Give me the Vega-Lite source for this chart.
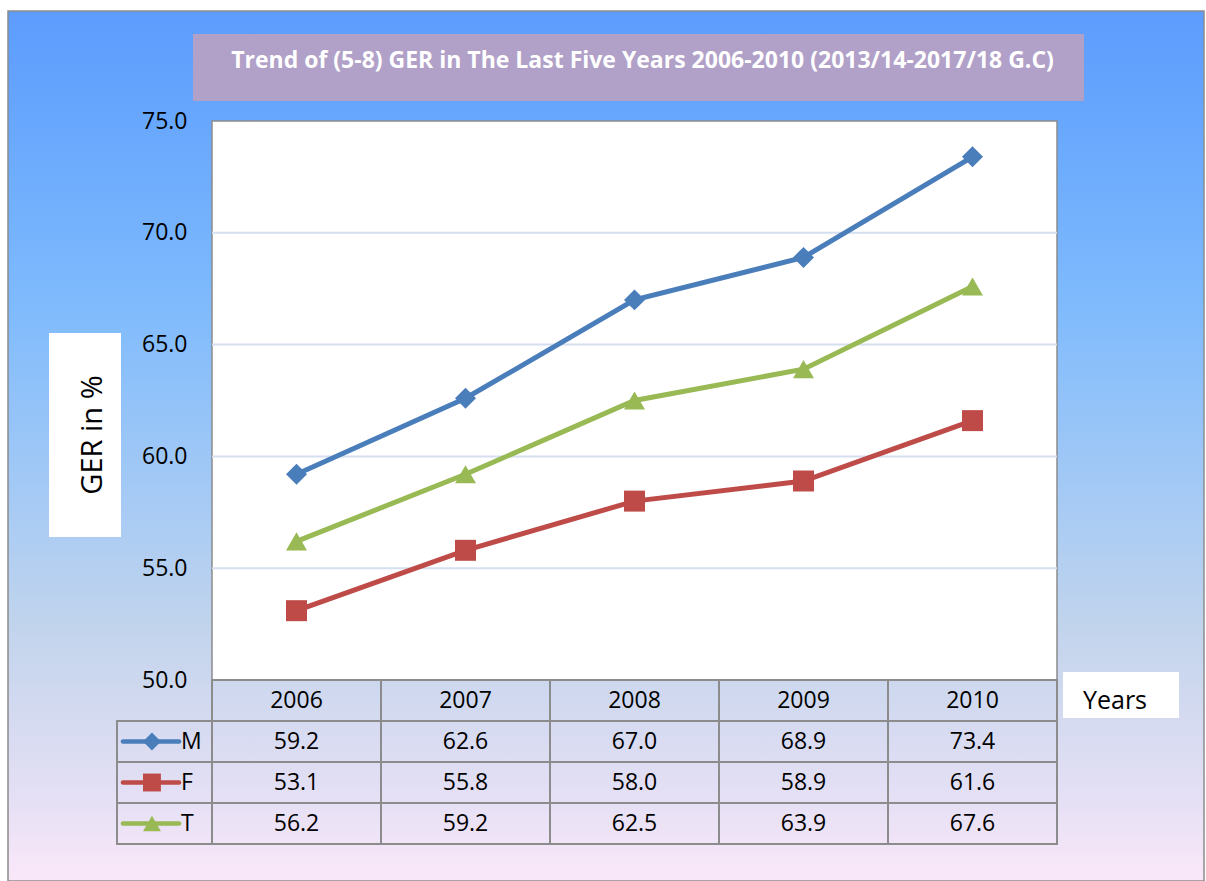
{
  "$schema": "https://vega.github.io/schema/vega-lite/v6.json",
  "width": 1196,
  "height": 870,
  "autosize": {"type": "none"},
  "padding": {"left": 8, "top": 11, "right": 2, "bottom": 0},
  "background": "white",
  "config": {"view": {"stroke": null}, "font": "Open Sans", "text": {"font": "Open Sans", "color": "black"}},
  "data": {
    "values": [
      {"year": 2006, "series": "M", "value": 59.2},
      {"year": 2007, "series": "M", "value": 62.6},
      {"year": 2008, "series": "M", "value": 67.0},
      {"year": 2009, "series": "M", "value": 68.9},
      {"year": 2010, "series": "M", "value": 73.4},
      {"year": 2006, "series": "F", "value": 53.1},
      {"year": 2007, "series": "F", "value": 55.8},
      {"year": 2008, "series": "F", "value": 58.0},
      {"year": 2009, "series": "F", "value": 58.9},
      {"year": 2010, "series": "F", "value": 61.6},
      {"year": 2006, "series": "T", "value": 56.2},
      {"year": 2007, "series": "T", "value": 59.2},
      {"year": 2008, "series": "T", "value": 62.5},
      {"year": 2009, "series": "T", "value": 63.9},
      {"year": 2010, "series": "T", "value": 67.6}
    ]
  },
  "layer": [
    {
      "data": {"values": [{"part": "background"}]},
      "mark": {
        "type": "rect",
        "stroke": "#8c8c8c",
        "strokeWidth": 1.5,
        "fill": {
          "gradient": "linear",
          "x1": 0, "y1": 0, "x2": 0, "y2": 1,
          "stops": [
            {"offset": 0, "color": "#5d9cfd"},
            {"offset": 0.114, "color": "#66a6fd"},
            {"offset": 0.344, "color": "#80bbfd"},
            {"offset": 0.574, "color": "#a8cbf4"},
            {"offset": 0.711, "color": "#c2d4ec"},
            {"offset": 0.895, "color": "#e3dff4"},
            {"offset": 0.98, "color": "#f6e6f8"},
            {"offset": 1, "color": "#f8e8f8"}
          ]
        }
      }
    },
    {
      "data": {"values": [{"title": "Trend of (5-8) GER in The Last Five Years 2006-2010 (2013/14-2017/18 G.C)"}]},
      "encoding": {
        "x": {"field": "title", "type": "nominal", "axis": null, "scale": {"range": [185, 1076], "paddingInner": 0, "paddingOuter": 0}},
        "y": {"field": "title", "type": "nominal", "axis": null, "scale": {"range": [23, 90], "paddingInner": 0, "paddingOuter": 0}}
      },
      "layer": [
        {"mark": {"type": "rect", "fill": "#b1a1c8"}},
        {"mark": {"type": "text", "color": "white", "fontWeight": "bold", "fontSize": 23, "dx": 4, "dy": -7}, "encoding": {"text": {"field": "title"}}}
      ]
    },
    {
      "data": {"values": [{"label": "GER in %"}]},
      "encoding": {
        "x": {"field": "label", "type": "nominal", "axis": null, "scale": {"range": [41, 113], "paddingInner": 0, "paddingOuter": 0}},
        "y": {"field": "label", "type": "nominal", "axis": null, "scale": {"range": [322, 526], "paddingInner": 0, "paddingOuter": 0}}
      },
      "layer": [
        {"mark": {"type": "rect", "fill": "white"}},
        {"mark": {"type": "text", "fontSize": 29, "angle": 270, "dy": 8}, "encoding": {"text": {"field": "label"}}}
      ]
    },
    {
      "data": {"values": [{"label": "Years"}]},
      "encoding": {
        "x": {"field": "label", "type": "nominal", "axis": null, "scale": {"range": [1055, 1171], "paddingInner": 0, "paddingOuter": 0}},
        "y": {"field": "label", "type": "nominal", "axis": null, "scale": {"range": [661, 707], "paddingInner": 0, "paddingOuter": 0}}
      },
      "layer": [
        {"mark": {"type": "rect", "fill": "white"}},
        {"mark": {"type": "text", "fontSize": 25, "dx": -6, "dy": 6}, "encoding": {"text": {"field": "label"}}}
      ]
    },
    {
      "layer": [
        {
          "data": {"values": [{"area": "plot"}]},
          "mark": {"type": "rect", "fill": "white", "stroke": "#8c8c8c", "strokeWidth": 1.5},
          "encoding": {
            "x": {"datum": 2005.5, "type": "quantitative", "axis": null, "scale": {"domain": [2005.5, 2010.5], "range": [204, 1049], "nice": false, "zero": false}},
            "x2": {"datum": 2010.5},
            "y": {
              "datum": 50, "type": "quantitative",
              "scale": {"domain": [50, 75], "range": [669, 110], "nice": false, "zero": false},
              "axis": {"title": null, "values": [50, 55, 60, 65, 70, 75], "format": ".1f", "offset": -204, "zindex": 2, "domain": false, "ticks": false, "tickSize": 0, "grid": false, "labelFontSize": 23, "labelFont": "Open Sans", "labelColor": "black", "labelPadding": 25}
            },
            "y2": {"datum": 75}
          }
        },
        {
          "data": {"values": [{"gridline": 55}, {"gridline": 60}, {"gridline": 65}, {"gridline": 70}]},
          "mark": {"type": "rule", "color": "#d5dff0", "strokeWidth": 2},
          "encoding": {
            "x": {"datum": 2005.5, "type": "quantitative", "axis": null, "scale": {"domain": [2005.5, 2010.5], "range": [204, 1049], "nice": false, "zero": false}},
            "x2": {"datum": 2010.5},
            "y": {"field": "gridline", "type": "quantitative", "scale": {"domain": [50, 75], "range": [669, 110], "nice": false, "zero": false}}
          }
        },
        {
          "mark": {"type": "line", "strokeWidth": 5},
          "encoding": {
            "x": {"field": "year", "type": "quantitative", "axis": null, "scale": {"domain": [2005.5, 2010.5], "range": [204, 1049], "nice": false, "zero": false}},
            "y": {"field": "value", "type": "quantitative", "scale": {"domain": [50, 75], "range": [669, 110], "nice": false, "zero": false}},
            "color": {"field": "series", "type": "nominal", "legend": null, "scale": {"domain": ["M", "F", "T"], "range": ["#4a7ebb", "#be4b48", "#98b954"]}}
          }
        },
        {
          "mark": {"type": "point", "filled": true, "size": 440, "opacity": 1},
          "encoding": {
            "x": {"field": "year", "type": "quantitative", "axis": null, "scale": {"domain": [2005.5, 2010.5], "range": [204, 1049], "nice": false, "zero": false}},
            "y": {"field": "value", "type": "quantitative", "scale": {"domain": [50, 75], "range": [669, 110], "nice": false, "zero": false}},
            "color": {"field": "series", "type": "nominal", "legend": null, "scale": {"domain": ["M", "F", "T"], "range": ["#4a7ebb", "#be4b48", "#98b954"]}},
            "shape": {"field": "series", "type": "nominal", "legend": null, "scale": {"domain": ["M", "F", "T"], "range": ["diamond", "square", "triangle-up"]}}
          }
        }
      ]
    },
    {
      "encoding": {
        "x": {"field": "year", "type": "ordinal", "axis": null, "scale": {"range": [204, 1049], "paddingInner": 0, "paddingOuter": 0}},
        "y": {"field": "series", "type": "nominal", "axis": null, "scale": {"domain": ["Year", "M", "F", "T"], "range": [669, 833], "paddingInner": 0, "paddingOuter": 0}}
      },
      "layer": [
        {"mark": {"type": "rect", "filled": false, "stroke": "#8c8c8c", "strokeWidth": 2}},
        {
          "transform": [{"filter": "datum.series === 'M'"}],
          "mark": {"type": "rect", "filled": false, "stroke": "#8c8c8c", "strokeWidth": 2},
          "encoding": {"y": {"datum": "Year"}}
        },
        {
          "mark": {"type": "text", "fontSize": 23},
          "encoding": {"text": {"field": "value", "type": "quantitative", "format": ".1f"}}
        },
        {
          "transform": [{"filter": "datum.series === 'M'"}],
          "mark": {"type": "text", "fontSize": 23},
          "encoding": {"y": {"datum": "Year"}, "text": {"field": "year", "type": "ordinal"}}
        }
      ]
    },
    {
      "transform": [{"filter": "datum.year === 2006"}],
      "encoding": {
        "y": {"field": "series", "type": "nominal", "axis": null, "scale": {"domain": ["Year", "M", "F", "T"], "range": [669, 833], "paddingInner": 0, "paddingOuter": 0}}
      },
      "layer": [
        {
          "mark": {"type": "rect", "filled": false, "stroke": "#8c8c8c", "strokeWidth": 2},
          "encoding": {
            "x": {"datum": 0, "type": "quantitative", "axis": null, "scale": {"domain": [0, 1], "range": [109, 204], "nice": false, "zero": false}},
            "x2": {"datum": 1}
          }
        },
        {
          "mark": {"type": "rule", "strokeWidth": 4.5, "strokeCap": "round"},
          "encoding": {
            "x": {"datum": 0.063, "type": "quantitative", "axis": null, "scale": {"domain": [0, 1], "range": [109, 204], "nice": false, "zero": false}},
            "x2": {"datum": 0.653},
            "color": {"field": "series", "type": "nominal", "legend": null, "scale": {"domain": ["M", "F", "T"], "range": ["#4a7ebb", "#be4b48", "#98b954"]}}
          }
        },
        {
          "mark": {"type": "point", "filled": true, "size": 320, "opacity": 1},
          "encoding": {
            "x": {"datum": 0.368, "type": "quantitative", "axis": null, "scale": {"domain": [0, 1], "range": [109, 204], "nice": false, "zero": false}},
            "color": {"field": "series", "type": "nominal", "legend": null, "scale": {"domain": ["M", "F", "T"], "range": ["#4a7ebb", "#be4b48", "#98b954"]}},
            "shape": {"field": "series", "type": "nominal", "legend": null, "scale": {"domain": ["M", "F", "T"], "range": ["diamond", "square", "triangle-up"]}}
          }
        },
        {
          "mark": {"type": "text", "align": "left", "fontSize": 23},
          "encoding": {
            "x": {"datum": 0.674, "type": "quantitative", "axis": null, "scale": {"domain": [0, 1], "range": [109, 204], "nice": false, "zero": false}},
            "text": {"field": "series", "type": "nominal"}
          }
        }
      ]
    }
  ],
  "resolve": {
    "scale": {"x": "independent", "y": "independent", "color": "independent", "shape": "independent"},
    "axis": {"x": "independent", "y": "independent"}
  }
}
